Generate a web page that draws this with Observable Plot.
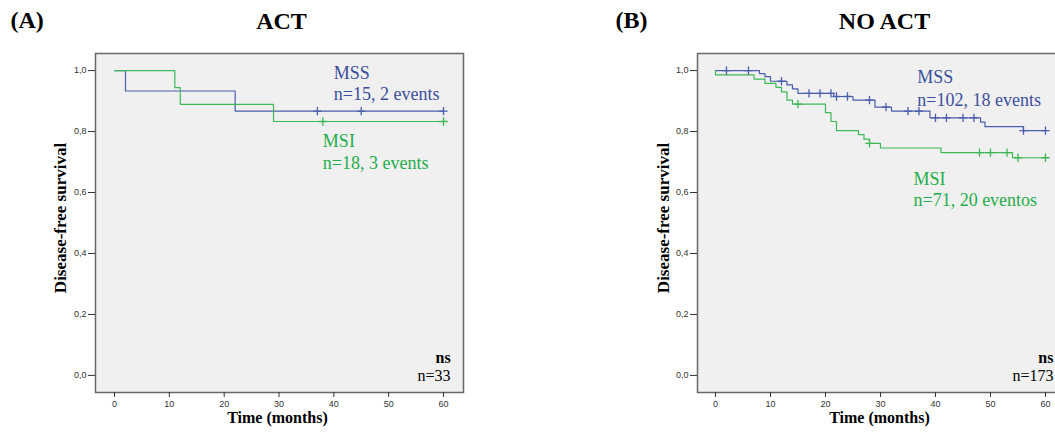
<!DOCTYPE html>
<html>
<head>
<meta charset="utf-8">
<script src="https://cdn.jsdelivr.net/npm/d3@7"></script>
<script src="https://cdn.jsdelivr.net/npm/@observablehq/plot@0.6"></script>
<style>
  html, body { margin: 0; padding: 0; background: #fff; overflow: hidden; }
  #wrap { position: relative; width: 1055px; height: 432px; overflow: hidden; }
  #pa, #pb { position: absolute; top: 0; }
  #pa { left: 0; width: 530px; }
  #pb { left: 530px; width: 545px; }
  #wrap svg { max-width: none !important; }
</style>
</head>
<body>
<div id="wrap"><div id="pa"></div><div id="pb"></div></div>
<script>
// ---------- data ----------
const monthTicks = [0, 10, 20, 30, 40, 50, 60];
const survTicks = [0, 0.2, 0.4, 0.6, 0.8, 1.0];

const panelTags = ["(A)", "(B)"];
const panelTitles = ["ACT", "NO ACT"];
const yLabel = "Disease-free survival";
const xLabel = "Time (months)";

// Panel A (ACT)
const actMssMonths = [0, 2, 22, 60];
const actMssSurv   = [1.0, 0.933, 0.867, 0.867];
const actMssCensMonths = [37, 45, 60];
const actMssCensSurv   = [0.867, 0.867, 0.867];
const actMsiMonths = [0, 11, 12, 29, 60];
const actMsiSurv   = [1.0, 0.944, 0.889, 0.833, 0.833];
const actMsiCensMonths = [38, 60];
const actMsiCensSurv   = [0.833, 0.833];
const actLabels = ["MSS\nn=15, 2 events", "MSI\nn=18, 3 events"];
const actNotes = ["ns", "n=33"];

// Panel B (NO ACT)
const noMssMonths = [0, 8, 9, 10, 13, 14, 15, 21.5, 25, 29, 32, 39, 48.2, 49, 56, 60];
const noMssSurv   = [1.0, 0.99, 0.98, 0.965, 0.953, 0.94, 0.925, 0.915, 0.903, 0.88, 0.867, 0.845, 0.831, 0.816, 0.803, 0.803];
const noMssCensMonths = [2, 6, 12, 17, 19, 21, 22, 24, 28, 31, 35, 37, 40, 42, 45, 47, 56, 60];
const noMssCensSurv   = [1.0, 1.0, 0.965, 0.925, 0.925, 0.925, 0.915, 0.915, 0.903, 0.88, 0.867, 0.867, 0.845, 0.845, 0.845, 0.845, 0.803, 0.803];
const noMsiMonths = [0, 0, 7, 9, 11, 12, 13, 14, 20, 21, 22, 26, 27, 28, 30, 41, 54, 60];
const noMsiSurv   = [1.0, 0.986, 0.972, 0.958, 0.945, 0.93, 0.903, 0.89, 0.862, 0.833, 0.803, 0.79, 0.775, 0.761, 0.746, 0.731, 0.714, 0.714];
const noMsiCensMonths = [15, 28, 48, 50, 53, 55, 60];
const noMsiCensSurv   = [0.89, 0.761, 0.731, 0.731, 0.731, 0.714, 0.714];
const noLabels = ["MSS\nn=102, 18 events", "MSI\nn=71, 20 eventos"];
const noNotes = ["ns", "n=173"];

// ---------- styles ----------
const blueLine = "#4a5eab", blueText = "#3b4f9c";
const greenLine = "#3cb857", greenText = "#1fae49";
const serif = "Liberation Serif, Times New Roman, serif";

const rows = (t, s) => t.map((d, i) => ({t: d, s: s[i]}));
const fmt = d => d.toFixed(1).replace(".", ",");

function panel(cfg) {
  return Plot.plot({
    width: cfg.width,
    height: 432,
    marginLeft: cfg.ml,
    marginRight: cfg.mr,
    marginTop: 53,
    marginBottom: 40,
    x: {domain: cfg.xd},
    y: {domain: [-0.056, 1.056]},
    style: {fontFamily: "Liberation Sans, Arial, sans-serif", fontSize: "9px", color: "#333", background: "transparent", overflow: "visible", maxWidth: "none"},
    marks: [
      Plot.frame({fill: "#f0f0f0", stroke: "#686868", strokeWidth: 1.5}),
      Plot.axisX({ticks: monthTicks, tickSize: 5, tickPadding: 3, label: null}),
      Plot.axisY({ticks: survTicks, tickSize: 7, tickPadding: 2, tickFormat: fmt, label: null}),
      Plot.line(rows(cfg.mssT, cfg.mssS), {x: "t", y: "s", curve: "step-after", stroke: blueLine, strokeWidth: 1.2}),
      Plot.line(rows(cfg.msiT, cfg.msiS), {x: "t", y: "s", curve: "step-after", stroke: greenLine, strokeWidth: 1.2}),
      Plot.dot(rows(cfg.mssCT, cfg.mssCS), {x: "t", y: "s", symbol: "plus", r: 2.8, stroke: blueLine, strokeWidth: 1.3}),
      Plot.dot(rows(cfg.msiCT, cfg.msiCS), {x: "t", y: "s", symbol: "plus", r: 2.8, stroke: greenLine, strokeWidth: 1.3}),
      Plot.text([cfg.labels[0]], {x: cfg.mssLab[0], y: cfg.mssLab[1], text: d => d, textAnchor: "start", lineAnchor: "middle", lineHeight: cfg.lh[0], fontSize: 18, fontFamily: serif, fill: blueText}),
      Plot.text([cfg.labels[1]], {x: cfg.msiLab[0], y: cfg.msiLab[1], text: d => d, textAnchor: "start", lineAnchor: "middle", lineHeight: cfg.lh[1], fontSize: 18, fontFamily: serif, fill: greenText}),
      Plot.text([cfg.notes[0]], {x: cfg.noteX, y: 0.059, text: d => d, textAnchor: "end", lineAnchor: "middle", fontSize: 16, fontWeight: "bold", fontFamily: serif, fill: "#000"}),
      Plot.text([cfg.notes[1]], {x: cfg.noteX, y: 0.0, text: d => d, textAnchor: "end", lineAnchor: "middle", fontSize: 16, fontFamily: serif, fill: "#000"}),
      Plot.text([yLabel], {frameAnchor: "left", dx: cfg.ylDx, dy: -5, rotate: -90, textAnchor: "middle", lineAnchor: "middle", fontSize: 17, fontWeight: "bold", fontFamily: serif, fill: "#000"}),
      Plot.text([xLabel], {frameAnchor: "bottom", dx: -2, dy: 25, textAnchor: "middle", lineAnchor: "middle", fontSize: 16, fontWeight: "bold", fontFamily: serif, fill: "#000"}),
      Plot.text([cfg.tag], {frameAnchor: "top-left", dx: cfg.tagDx, dy: -33, textAnchor: "start", lineAnchor: "middle", fontSize: 24, fontWeight: "bold", fontFamily: serif, fill: "#000"}),
      Plot.text([cfg.title], {frameAnchor: "top", dx: cfg.titleDx, dy: -32, textAnchor: "middle", lineAnchor: "middle", fontSize: 24, fontWeight: "bold", fontFamily: serif, fill: "#000"})
    ]
  });
}

document.getElementById("pa").append(panel({
  width: 530, ml: 95, mr: 67, xd: [-3.47, 63.65],
  mssT: actMssMonths, mssS: actMssSurv, msiT: actMsiMonths, msiS: actMsiSurv,
  mssCT: actMssCensMonths, mssCS: actMssCensSurv, msiCT: actMsiCensMonths, msiCS: actMsiCensSurv,
  labels: actLabels, mssLab: [40, 0.959], msiLab: [38, 0.735], lh: [1.17, 1.2],
  notes: actNotes, noteX: 61.3, ylDx: -35,
  tag: panelTags[0], tagDx: -85, title: panelTitles[0], titleDx: 2
}));

document.getElementById("pb").append(panel({
  width: 545, ml: 167, mr: 10, xd: [-3.27, 63.64],
  mssT: noMssMonths, mssS: noMssSurv, msiT: noMsiMonths, msiS: noMsiSurv,
  mssCT: noMssCensMonths, mssCS: noMssCensSurv, msiCT: noMsiCensMonths, msiCS: noMsiCensSurv,
  labels: noLabels, mssLab: [36.7, 0.945], msiLab: [36, 0.611], lh: [1.28, 1.17],
  notes: noNotes, noteX: 61.45, ylDx: -34,
  tag: panelTags[1], tagDx: -82, title: panelTitles[1], titleDx: 3
}));
</script>
</body>
</html>
